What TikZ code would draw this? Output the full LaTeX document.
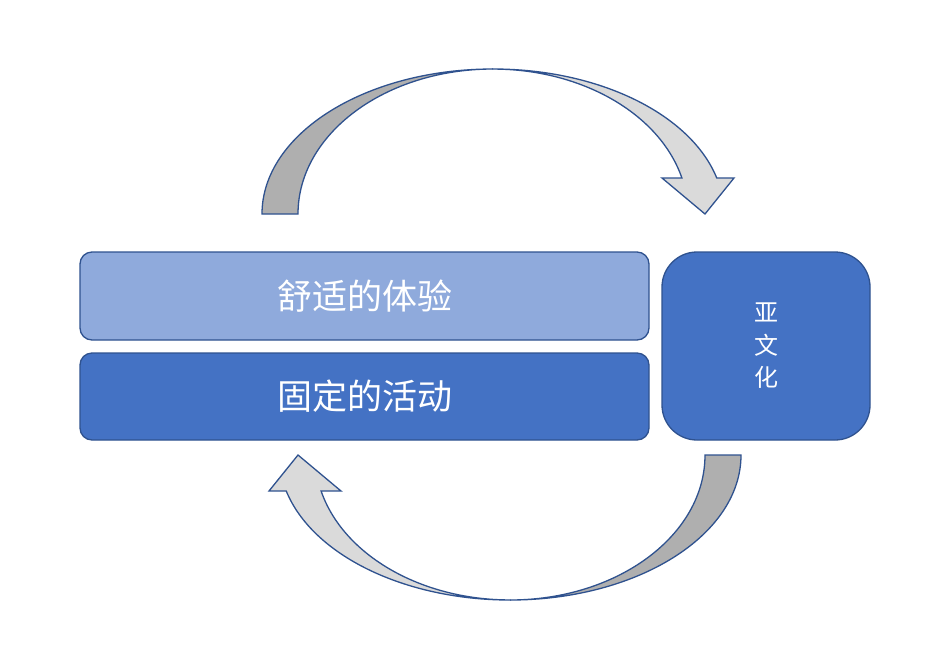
\documentclass[tikz,border=0pt]{standalone}
\usepackage{fontspec}
\newfontfamily\cjk{Noto Sans CJK SC}
\definecolor{edgeblue}{HTML}{2F528F}
\definecolor{paleblue}{HTML}{8FAADC}
\definecolor{midblue}{HTML}{4472C4}
\definecolor{backgray}{HTML}{AFAFAF}
\definecolor{frontgray}{HTML}{DADADA}
\tikzset{
  box/.style={draw=edgeblue, line width=1.3pt, rounded corners=12pt,
    inner sep=0pt, text=white, font=\cjk\fontsize{35}{40}\selectfont},
  band/.style={draw=edgeblue, line width=1.3pt}
}
% one bent block arrow, tail on the left, head on the right
\newcommand{\bentarrow}{%
  \draw[band, fill=backgray] (262,214)
    arc[start angle=180, end angle=270, x radius=231, y radius=145]
    arc[start angle=270, end angle=180, x radius=195, y radius=145] -- cycle;
  \draw[band, fill=frontgray] (493,69)
    arc[start angle=270, end angle=345.6, x radius=231, y radius=145]
    -- (734,178) -- (705,214) -- (662,178) -- (681.9,178)
    arc[start angle=345.6, end angle=270, x radius=195, y radius=145] -- cycle;
}
\begin{document}
\begin{tikzpicture}[x=1pt, y=-1pt]
  \useasboundingbox[fill=white] (0,0) rectangle (925,659);
  \node[box, fill=paleblue, minimum width=569pt, minimum height=88pt]
    (comfort) at (364.5,296) {舒适的体验};
  \node[box, fill=midblue, minimum width=569pt, minimum height=87pt]
    (activity) at (364.5,396.5) {固定的活动};
  \node[box, fill=midblue, rounded corners=35pt, minimum width=208pt,
    minimum height=188pt, align=center, font=\cjk\fontsize{24}{32.5}\selectfont]
    (sub) at (766,346) {亚\\文\\化};
  \bentarrow
  \begin{scope}[rotate around={180:(501.5,334.5)}]
    \bentarrow
  \end{scope}
\end{tikzpicture}
\end{document}
